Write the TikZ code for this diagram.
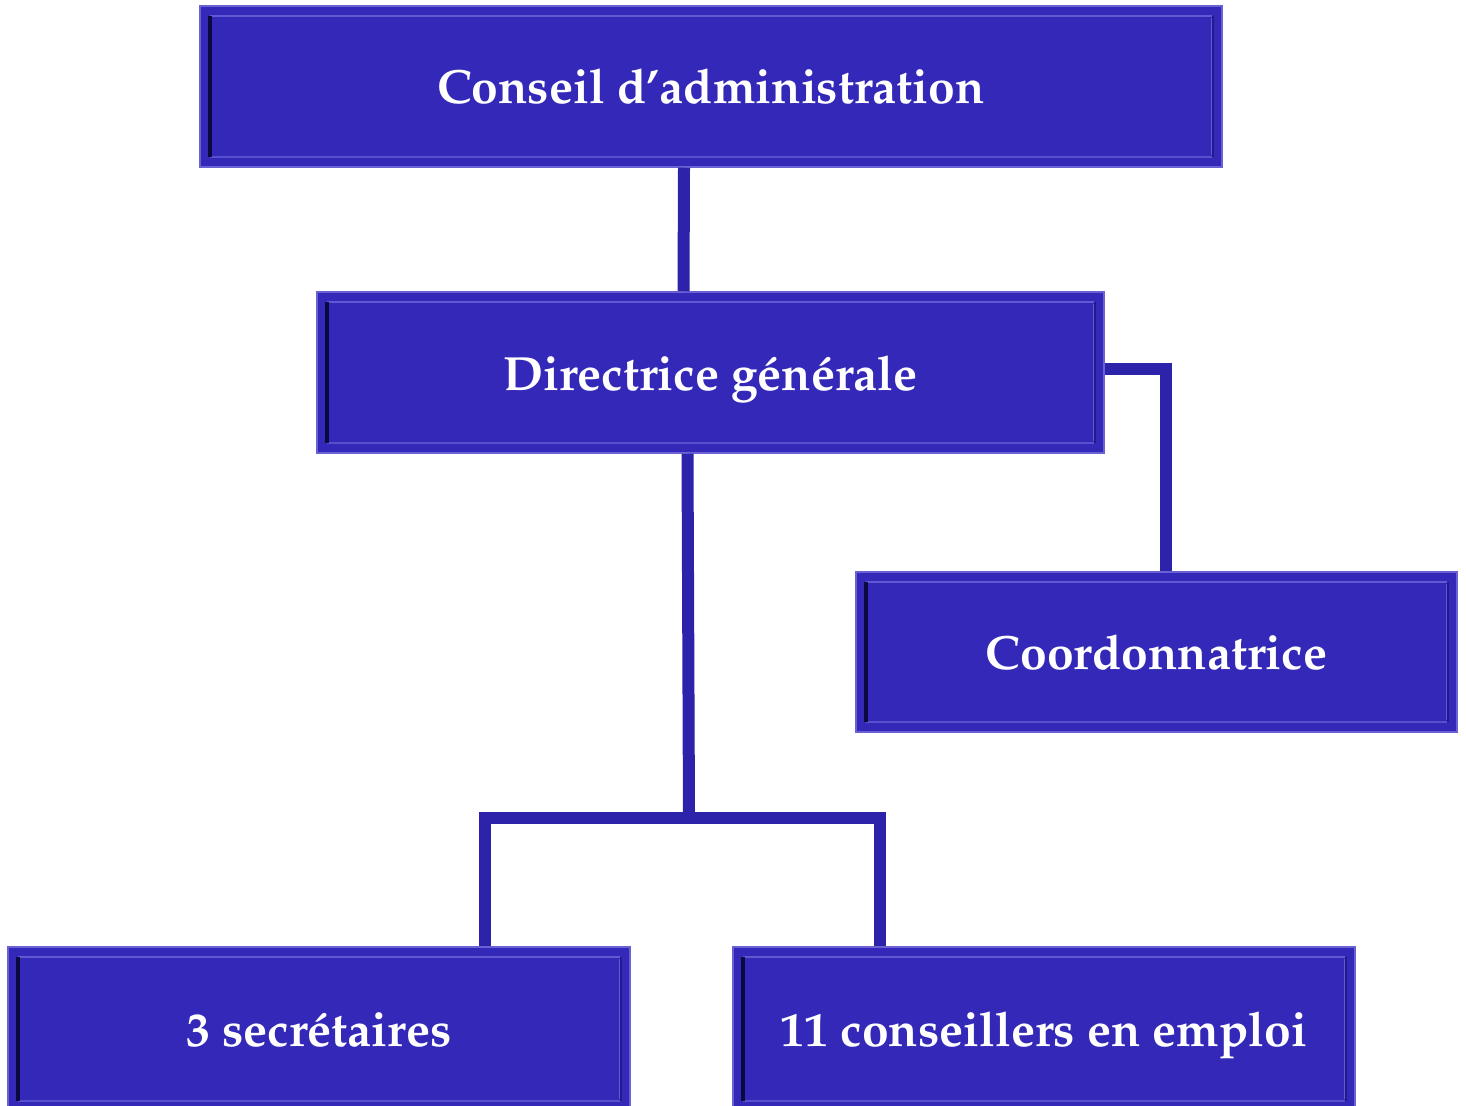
\documentclass[tikz,border=0pt]{standalone}
\usepackage[T1]{fontenc}
\usepackage{mathpazo}
\usetikzlibrary{calc}
\definecolor{boxfill}{HTML}{3328B8}
\definecolor{conncol}{HTML}{2D22AA}
\definecolor{bevlight}{HTML}{6259D2}
\definecolor{bevdark}{HTML}{0C0840}
\definecolor{bevmid}{HTML}{221A8A}
\definecolor{outerline}{HTML}{6A62D4}
\tikzset{
  orgbox/.style={fill=boxfill, draw=outerline, line width=1.5pt, text=white,
    font=\fontsize{48}{56}\selectfont\bfseries, inner sep=0pt,
    text height=36pt, text depth=1pt,
    path picture={
      \coordinate (bvnw) at ([shift={(10pt,-10pt)}]path picture bounding box.north west);
      \coordinate (bvse) at ([shift={(-10pt,10pt)}]path picture bounding box.south east);
      \draw[bevlight, line width=2.5pt] (bvnw) -- (bvnw -| bvse);
      \draw[bevlight, line width=2pt] ($(bvse |- bvnw)+(0,-2pt)$) -- ($(bvse)+(0,2pt)$);
      \draw[bevlight!80!boxfill, line width=2.5pt] (bvse) -- (bvse -| bvnw);
      \draw[bevdark, line width=4pt] (bvnw) -- (bvnw |- bvse);
      \draw[bevmid, line width=2pt] ($(bvse |- bvnw)+(1pt,0)$) -- ($(bvse)+(1pt,0)$);
    }},
  conn/.style={draw=conncol, line width=12pt, line join=miter}
}
\begin{document}
\begin{tikzpicture}[x=1pt,y=-1pt]
\useasboundingbox (0,0) rectangle (1466,1105);
\node[orgbox, minimum width=1022pt, minimum height=161pt] (ca) at (711,86.5) {Conseil d\textquoteright administration};
\node[orgbox, minimum width=787pt, minimum height=161pt] (dg) at (710.5,372.5) {Directrice générale};
\node[orgbox, minimum width=601pt, minimum height=160pt] (co) at (1156.5,652) {Coordonnatrice};
\node[orgbox, minimum width=622pt, minimum height=164pt] (sec) at (319,1029) {3 secrétaires};
\node[orgbox, minimum width=622pt, minimum height=164pt] (ce) at (1044,1029) {11 conseillers en emploi};
\coordinate (j) at (689,818);
\draw[conn] ([xshift=-27pt]ca.south) -- ([xshift=-27pt]dg.north);
\draw[conn] ([yshift=3.5pt]dg.east) -| ([xshift=9.5pt]co.north);
\draw[conn] ([xshift=-23pt]dg.south) -- (j);
\draw[conn] ([xshift=166pt]sec.north) |- (j) -| ([xshift=-164pt]ce.north);
\end{tikzpicture}
\end{document}
